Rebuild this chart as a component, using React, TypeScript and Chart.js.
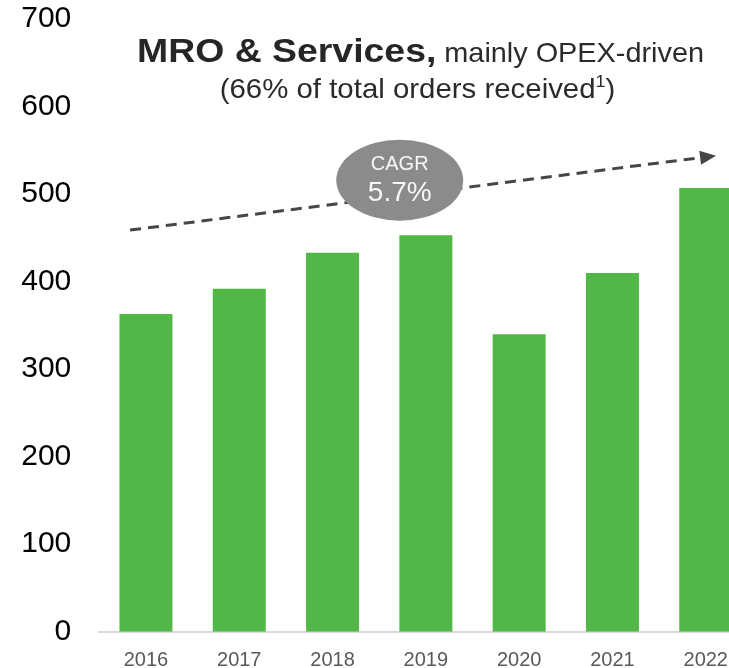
import React, { useEffect, useRef } from 'react';
import { Chart, registerables } from 'chart.js';

Chart.register(...registerables);

// ---- data ----
const categories = ['2016', '2017', '2018', '2019', '2020', '2021', '2022'];
const orders = [363, 392, 433, 453, 340, 410, 507];
const yTickValues = [0, 100, 200, 300, 400, 500, 600, 700];
// trend arrow endpoints in data units (category index, value)
const trendStart = { x: -0.17, y: 459 };
const trendEnd = { x: 6.11, y: 544 };
const cagrCenter = { x: 2.72, y: 516 };
const cagrLabel = 'CAGR';
const cagrValue = '5.7%';
const titleBold = 'MRO & Services,';
const titleRest = ' mainly OPEX-driven';
const subtitleMain = '(66% of total orders received';
const subtitleSup = '1';
const subtitleEnd = ')';

const FONT = '"Liberation Sans", Arial, sans-serif';

function drawStretched(ctx: CanvasRenderingContext2D, text: string, x: number, y: number, sx: number) {
  ctx.save();
  ctx.translate(x, y);
  ctx.scale(sx, 1);
  ctx.fillText(text, 0, 0);
  ctx.restore();
  return ctx.measureText(text).width * sx;
}

const annotPlugin = {
  id: 'annot',
  afterDatasetsDraw(chart: any) {
    const { ctx, scales } = chart;
    const xs = scales.x;
    const ys = scales.y;
    ctx.save();

    // ---- trend arrow ----
    const x1 = xs.getPixelForValue(trendStart.x);
    const y1 = ys.getPixelForValue(trendStart.y);
    const x2 = xs.getPixelForValue(trendEnd.x);
    const y2 = ys.getPixelForValue(trendEnd.y);
    const ang = Math.atan2(y2 - y1, x2 - x1);
    const headLen = 16;
    const headHalf = 7;
    const bx = x2 - headLen * Math.cos(ang);
    const by = y2 - headLen * Math.sin(ang);
    ctx.strokeStyle = '#464646';
    ctx.lineWidth = 3;
    ctx.setLineDash([11, 7]);
    ctx.beginPath();
    ctx.moveTo(x1, y1);
    ctx.lineTo(bx, by);
    ctx.stroke();
    ctx.setLineDash([]);
    ctx.fillStyle = '#464646';
    ctx.beginPath();
    ctx.moveTo(x2, y2);
    ctx.lineTo(bx + headHalf * Math.sin(ang), by - headHalf * Math.cos(ang));
    ctx.lineTo(bx - headHalf * Math.sin(ang), by + headHalf * Math.cos(ang));
    ctx.closePath();
    ctx.fill();

    // ---- CAGR bubble ----
    const cx = xs.getPixelForValue(cagrCenter.x);
    const cy = ys.getPixelForValue(cagrCenter.y);
    ctx.fillStyle = '#8b8b8b';
    ctx.beginPath();
    ctx.ellipse(cx, cy, 63.5, 40.5, 0, 0, Math.PI * 2);
    ctx.fill();
    ctx.fillStyle = '#f7f7f7';
    ctx.textAlign = 'center';
    ctx.textBaseline = 'alphabetic';
    ctx.font = `20px ${FONT}`;
    ctx.fillText(cagrLabel, cx, cy - 10.5);
    ctx.font = `28px ${FONT}`;
    ctx.fillText(cagrValue, cx, cy + 20.5);

    // ---- title ----
    ctx.textAlign = 'left';
    ctx.fillStyle = '#262626';
    let tx = 137;
    ctx.font = `bold 34px ${FONT}`;
    tx += drawStretched(ctx, titleBold, tx, 61.7, 1.1);
    ctx.fillStyle = '#2b2b2b';
    ctx.font = `28px ${FONT}`;
    drawStretched(ctx, titleRest, tx, 61.7, 1.03);

    // ---- subtitle ----
    const sx = 1.05;
    ctx.font = `28px ${FONT}`;
    const wMain = ctx.measureText(subtitleMain).width * sx;
    const wEnd = ctx.measureText(subtitleEnd).width * sx;
    ctx.font = `17px ${FONT}`;
    const wSup = ctx.measureText(subtitleSup).width * sx;
    let sxPos = 417.5 - (wMain + wSup + wEnd) / 2;
    ctx.font = `28px ${FONT}`;
    sxPos += drawStretched(ctx, subtitleMain, sxPos, 97.5, sx);
    ctx.font = `17px ${FONT}`;
    sxPos += drawStretched(ctx, subtitleSup, sxPos, 86.5, sx);
    ctx.font = `28px ${FONT}`;
    drawStretched(ctx, subtitleEnd, sxPos, 97.5, sx);

    ctx.restore();
  },
};

export default function App() {
  const canvasRef = useRef<HTMLCanvasElement | null>(null);

  useEffect(() => {
    if (!canvasRef.current) return;
    const chart = new Chart(canvasRef.current, {
      type: 'bar',
      data: {
        labels: categories,
        datasets: [
          {
            data: orders,
            backgroundColor: '#51B848',
            borderWidth: 0,
            categoryPercentage: 1,
            barPercentage: 0.568,
          },
        ],
      },
      options: {
        responsive: false,
        animation: false,
        devicePixelRatio: 1,
        layout: { padding: { left: 21.3, right: 7.6, top: 19.2, bottom: 0 } },
        plugins: {
          legend: { display: false },
          tooltip: { enabled: false },
          title: { display: false },
        },
        scales: {
          x: {
            grid: { display: false, drawTicks: false },
            border: { display: true, color: '#d9d9d9', width: 2 },
            ticks: {
              color: '#595959',
              font: { family: FONT, size: 20 },
              padding: 17,
              maxRotation: 0,
            },
            afterFit: (s: any) => {
              s.height = 36.3;
              s.paddingLeft = 0;
              s.paddingRight = 0;
            },
          },
          y: {
            min: 0,
            max: 700,
            grid: { display: false, drawTicks: false },
            border: { display: false },
            afterBuildTicks: (axis: any) => {
              axis.ticks = yTickValues.map((v) => ({ value: v }));
            },
            ticks: {
              color: '#000000',
              font: { family: FONT, size: 30 },
              padding: 28,
            },
            afterFit: (s: any) => {
              s.width = 78;
              s.paddingTop = 0;
              s.paddingBottom = 0;
            },
          },
        },
      },
      plugins: [annotPlugin],
    });
    return () => chart.destroy();
  }, []);

  return (
    <div
      style={{
        position: 'fixed',
        left: 0,
        top: 0,
        width: 729,
        height: 668,
        overflow: 'hidden',
        background: '#ffffff',
      }}
    >
      <canvas ref={canvasRef} width={760} height={668} style={{ display: 'block' }} />
    </div>
  );
}
